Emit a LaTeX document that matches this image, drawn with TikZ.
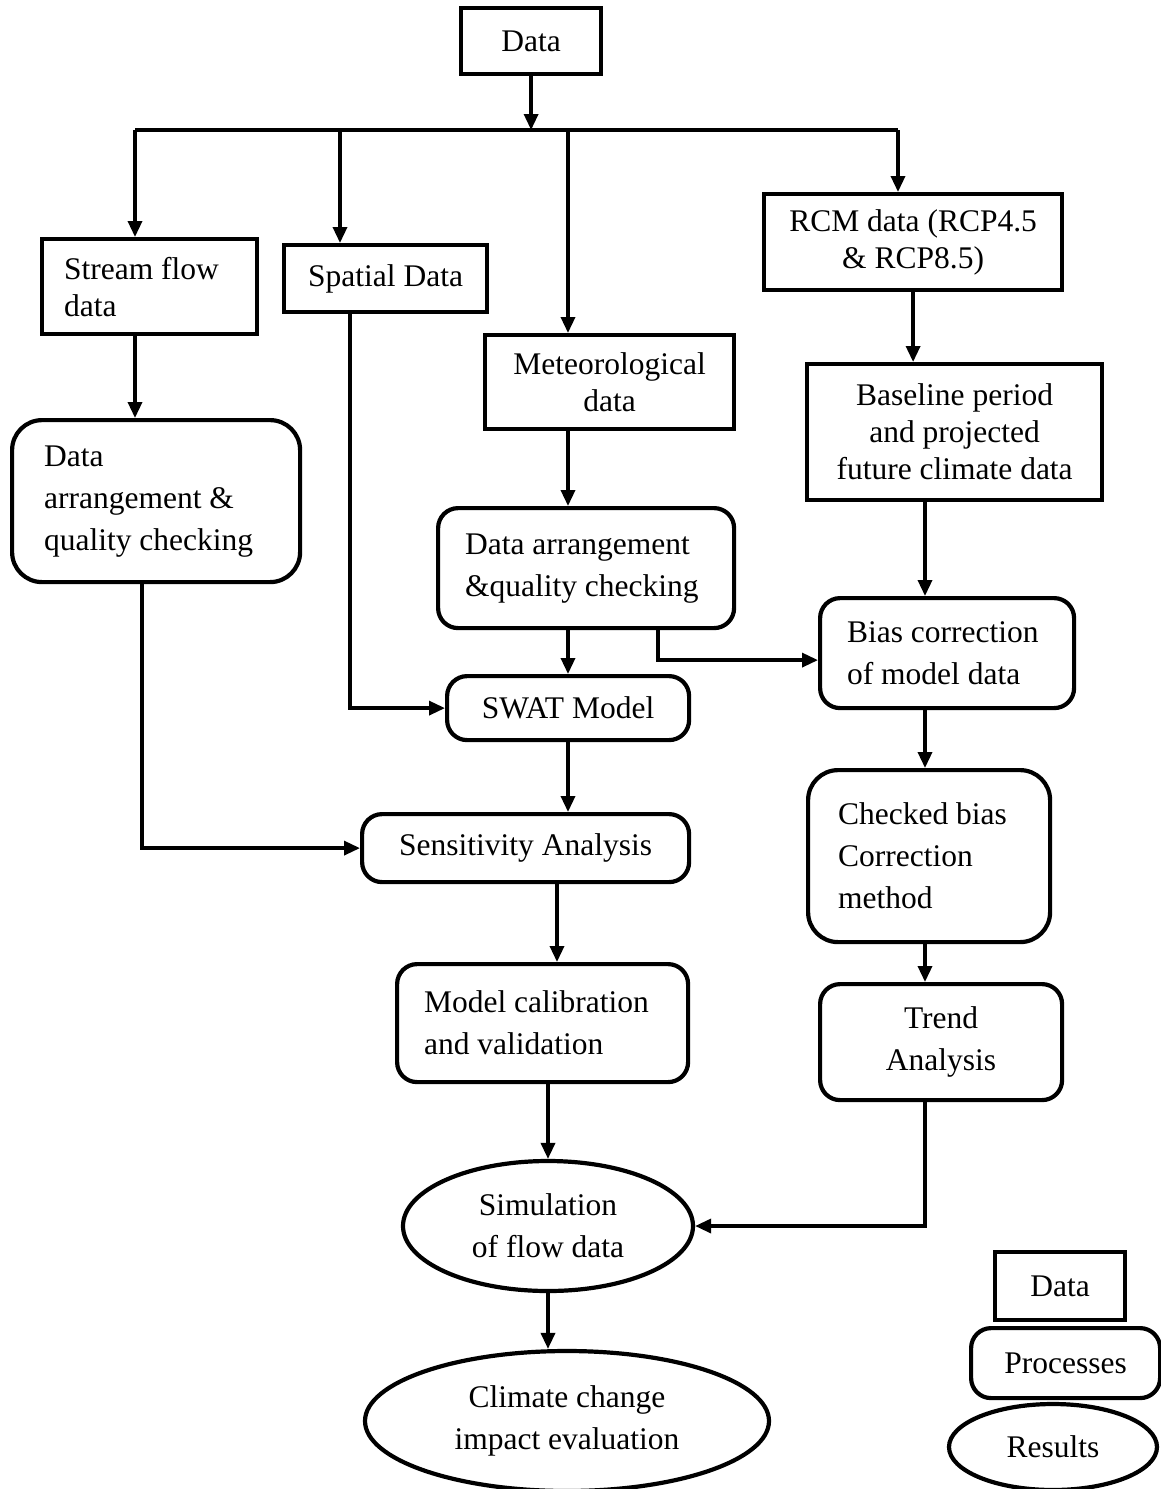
\documentclass[tikz,border=0pt]{standalone}
\usepackage{fontspec}
\setmainfont{Liberation Serif}
\usepackage{tikz}
\usetikzlibrary{arrows.meta, shapes.geometric}
\tikzset{
  databox/.style={
    rectangle, draw, line width=4.2pt, inner sep=0pt, align=center,
    anchor=north west, font=\fontsize{31.5}{37}\selectfont
  },
  procbox/.style={
    rectangle, draw, line width=4.2pt, rounded corners=20pt, inner sep=0pt,
    align=center, anchor=north west, font=\fontsize{31.5}{42}\selectfont
  },
  result/.style={
    ellipse, draw, line width=4.2pt, inner sep=0pt, align=center,
    font=\fontsize{31.5}{42}\selectfont
  },
  arr/.style={-{Triangle[length=16pt,width=14pt]}, line width=3.4pt},
  link/.style={line width=3.4pt},
}
\begin{document}
\begin{tikzpicture}[x=1pt, y=-1pt]
  \useasboundingbox (0,0) rectangle (1161,1489);

  \node[databox, minimum width=140pt, minimum height=66pt] (data) at (459,6) {Data};
  \node[databox, minimum width=215pt, minimum height=95pt, align=flush left,
        text width=171pt, inner xsep=22pt] (stream) at (40,237) {Stream flow\\data};
  \node[databox, minimum width=203pt, minimum height=67pt] (spatial) at (282,243) {Spatial Data};
  \node[databox, minimum width=249pt, minimum height=94pt] (meteo) at (483,333) {Meteorological\\data};
  \node[databox, minimum width=298pt, minimum height=96pt] (rcm) at (762,192) {RCM data (RCP4.5\\\& RCP8.5)};
  \node[databox, minimum width=295pt, minimum height=136pt] (base) at (805,362)
       {Baseline period\\and projected\\future climate data};

  \node[procbox, rounded corners=30pt, minimum width=288pt, minimum height=162pt, align=flush left,
        text width=224pt, inner xsep=32pt] (daL) at (10,418) {Data\\arrangement \&\\quality checking};
  \node[procbox, minimum width=296pt, minimum height=120pt, align=flush left,
        text width=242pt, inner xsep=27pt] (daM) at (436,506) {Data arrangement\\\&quality checking};
  \node[procbox, minimum width=254pt, minimum height=110pt, align=flush left,
        text width=200pt, inner xsep=27pt] (bias) at (818,596) {Bias correction\\of model data};
  \node[procbox, minimum width=242pt, minimum height=64pt] (swat) at (445,674) {SWAT Model};
  \node[procbox, minimum width=327pt, minimum height=68pt] (sens) at (360,812) {Sensitivity Analysis};
  \node[procbox, rounded corners=30pt, minimum width=242pt, minimum height=172pt, align=flush left,
        text width=182pt, inner xsep=30pt] (checked) at (806,768) {Checked bias\\Correction\\method};
  \node[procbox, minimum width=291pt, minimum height=118pt, align=flush left,
        text width=237pt, inner xsep=27pt] (calib) at (395,962) {Model calibration\\and validation};
  \node[procbox, minimum width=242pt, minimum height=116pt] (trend) at (818,982) {Trend\\Analysis};

  \node[result, minimum width=290pt, minimum height=130pt] (sim) at (548,1226) {Simulation\\of flow data};
  \node[result, minimum width=404pt, minimum height=140pt] (climate) at (567,1421)
       {Climate change\\impact evaluation};

  \node[databox, minimum width=130pt, minimum height=68pt] (ldata) at (993,1250) {Data};
  \node[procbox, minimum width=189pt, minimum height=70pt] (lproc) at (969,1326) {Processes};
  \node[result, minimum width=208pt, minimum height=86pt] (lres) at (1053,1447) {Results};

  \coordinate (busL) at (135,130);
  \coordinate (busS) at (340,130);
  \coordinate (busM) at (568,130);
  \coordinate (busR) at (898,130);
  \coordinate (colL) at (142,0);
  \coordinate (colS) at (350,0);
  \coordinate (colB) at (658,0);
  \coordinate (colC) at (557,0);
  \coordinate (colR) at (925,0);

  \draw[arr] (data.south) -- (data.south |- busL);
  \draw[link] (busL) -- (busR);
  \draw[arr] (busL) -- (busL |- stream.north);
  \draw[arr] (busS) -- (busS |- spatial.north);
  \draw[arr] (busM) -- (busM |- meteo.north);
  \draw[arr] (busR) -- (busR |- rcm.north);

  \draw[arr] (busL |- stream.south) -- (busL |- daL.north);
  \draw[arr] (colL |- daL.south) |- (sens.west);
  \draw[arr] (colS |- spatial.south) |- (swat.west);
  \draw[arr] (busM |- meteo.south) -- (busM |- daM.north);
  \draw[arr] (busM |- daM.south) -- (busM |- swat.north);
  \draw[arr] (colB |- daM.south) |- ([yshift=-7pt]bias.west);
  \draw[arr] (busM |- swat.south) -- (busM |- sens.north);
  \draw[arr] (colC |- sens.south) -- (colC |- calib.north);
  \draw[arr] (sim.north |- calib.south) -- (sim.north);
  \draw[arr] (sim.south) -- (sim.south |- climate.north);

  \draw[arr] (rcm.south) -- (rcm.south |- base.north);
  \draw[arr] (colR |- base.south) -- (colR |- bias.north);
  \draw[arr] (colR |- bias.south) -- (colR |- checked.north);
  \draw[arr] (colR |- checked.south) -- (colR |- trend.north);
  \draw[arr] (colR |- trend.south) |- (sim.east);
\end{tikzpicture}
\end{document}
